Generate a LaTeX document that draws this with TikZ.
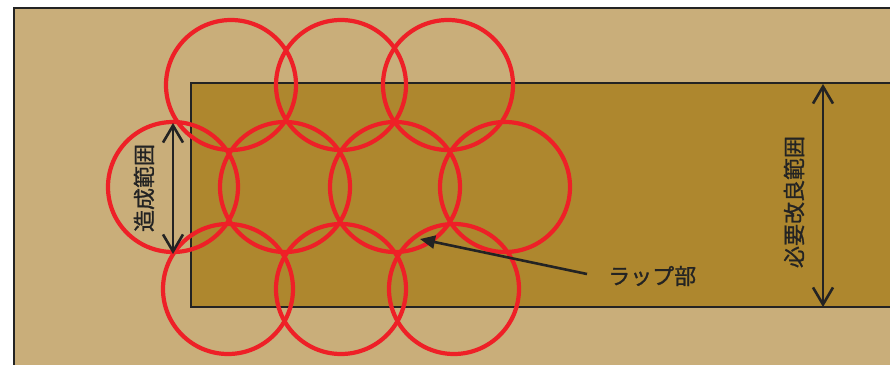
\documentclass[tikz,border=0pt]{standalone}
\usepackage{fontspec}
\newfontfamily\jpfont[FakeBold=1]{Noto Sans CJK JP}
\usetikzlibrary{arrows.meta}
\definecolor{groundlight}{HTML}{C9AE7A}
\definecolor{grounddark}{HTML}{AE872E}
\definecolor{ringred}{HTML}{EE2027}
\definecolor{inkdark}{HTML}{232323}
\tikzset{
  ring/.style={draw=ringred, line width=4.2pt},
  dimarrow/.style={draw=inkdark, line width=2.6pt, {Straight Barb[length=17pt,width=20pt]}-{Straight Barb[length=17pt,width=20pt]}},
  leader/.style={draw=inkdark, line width=2.6pt, -{Triangle[length=15pt,width=13pt]}},
  label/.style={font=\jpfont\fontsize{22}{24}\selectfont, text=inkdark, inner sep=0pt},
  areabox/.style={draw=inkdark, line width=1.5pt}
}
\begin{document}
\begin{tikzpicture}[x=1pt,y=-1pt]
\clip (0,0) rectangle (890,364);
\fill[white] (0,0) rectangle (890,364);
% ground
\path[areabox, fill=groundlight] (14,8) rectangle (900,380);
\path[areabox, fill=grounddark] (191,83) rectangle (900,307);
% circles
\foreach \cx/\cy in {231/85, 341/85, 448/85, 173/187, 285/187, 395/187, 505/187, 228/289, 341/289, 454/289}
  \draw[ring] (\cx,\cy) circle (65);
% dimension arrows
\coordinate (zt) at (173,123);
\coordinate (zb) at (173,254);
\draw[dimarrow] (zt) -- (zb);
\node[label, rotate=90] (zlab) at (144,188) {造成範囲};
\coordinate (ht) at (823,84);
\coordinate (hb) at (823,307);
\draw[dimarrow] (ht) -- (hb);
\node[label, rotate=90] (hlab) at (794,202) {必要改良範囲};
% lap label
\node[label, anchor=west] (lap) at (608,276) {ラップ部};
\coordinate (laptip) at (420,239);
\draw[leader] (lap.west) ++(-21,-2) coordinate (laptail) -- (laptip);
\end{tikzpicture}
\end{document}
